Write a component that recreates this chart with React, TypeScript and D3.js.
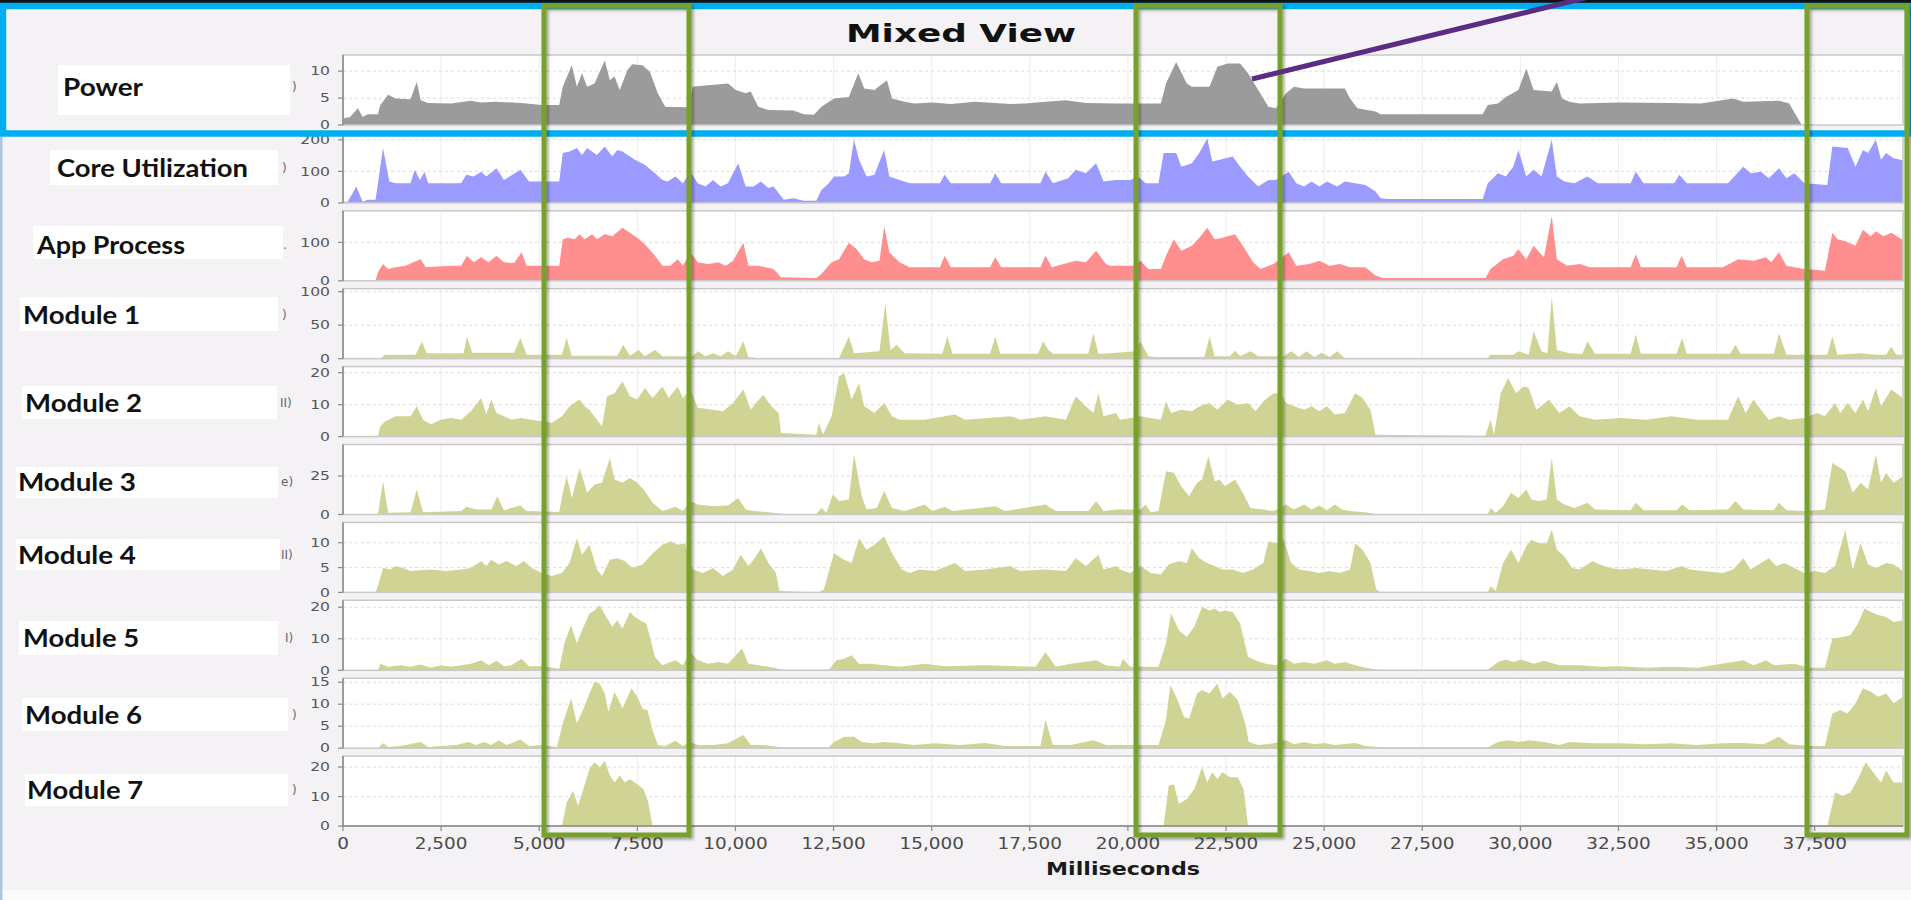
import React from 'react';
import * as d3 from 'd3';

type Pt = [number, number];

// ---------- DATA ----------
const timeDomain: [number, number] = [0, 39750];
const timeTicks = [0, 2500, 5000, 7500, 10000, 12500, 15000, 17500, 20000, 22500, 25000, 27500, 30000, 32500, 35000, 37500];

const panelNames = ['Power', 'Core Utilization', 'App Process', 'Module 1', 'Module 2', 'Module 3', 'Module 4', 'Module 5', 'Module 6', 'Module 7'];
const axisFragments = [')', ')', '.', ')', 'II)', 'e)', 'II)', 'I)', ')', ')'];
const yMax = [13, 222, 182, 104.5, 21.9, 45.5, 14.1, 22.2, 15.9, 23.7];
const yTicks = [[0, 5, 10], [0, 100, 200], [0, 100], [0, 50, 100], [0, 10, 20], [0, 25], [0, 5, 10], [0, 10, 20], [0, 5, 10, 15], [0, 10, 20]];

const powerData: Pt[] = [[0,1.2],[180,1.5],[380,3.1],[500,1.5],[630,2.0],[890,2.0],[950,3.7],[1150,5.6],[1340,4.9],[1720,4.8],[1880,8.0],[1980,4.6],[2170,4.1],[2750,4.0],[3260,4.5],[3510,4.2],[3910,4.3],[4550,4.1],[5060,3.7],[5510,3.7],[5600,7.1],[5830,11.1],[5960,7.1],[6090,9.6],[6220,7.1],[6410,7.7],[6670,12.0],[6800,8.3],[6920,9.0],[7050,6.5],[7250,10.2],[7370,11.3],[7630,11.1],[7820,9.9],[8020,5.9],[8210,3.4],[8790,3.3],[8910,7.1],[9300,7.4],[9810,7.7],[10010,6.5],[10260,5.9],[10390,6.2],[10580,3.4],[10840,2.8],[11480,2.7],[11740,2.0],[12000,1.9],[12190,3.4],[12510,4.9],[12890,5.2],[13130,9.6],[13280,6.8],[13540,6.5],[13860,8.3],[13990,4.9],[14310,4.3],[14560,4.0],[15000,4.2],[15500,3.9],[16100,4.3],[16600,4.1],[17000,3.9],[17390,4.0],[17900,4.3],[18420,4.6],[18930,4.1],[19700,4.0],[20840,4.0],[20970,7.7],[21230,11.7],[21500,7.7],[21630,7.1],[22080,7.1],[22280,10.8],[22540,11.4],[22860,11.4],[23060,9.6],[23320,6.5],[23580,3.4],[23770,3.1],[24030,5.9],[24230,7.1],[24490,6.8],[25010,6.8],[25530,6.8],[25660,4.9],[25850,3.1],[26310,2.5],[26440,2.0],[29040,2.0],[29170,3.7],[29430,4.0],[29630,5.2],[29950,6.5],[30150,10.5],[30340,6.5],[30800,6.2],[30930,8.0],[31060,4.9],[31250,4.3],[31510,4.0],[32500,4.2],[33850,4.1],[34600,4.0],[35420,4.9],[35680,4.3],[36590,4.5],[36850,4.0],[37170,0],[39750,0]];

const coreData: Pt[] = [[0,4],[120,4],[340,52],[500,4],[630,10],[830,10],[1020,174],[1180,68],[1340,62],[1720,62],[1830,105],[1960,73],[2080,99],[2170,62],[3010,62],[3140,89],[3330,84],[3520,99],[3650,84],[3910,110],[4100,73],[4520,105],[4740,68],[5510,68],[5600,158],[5770,163],[5960,174],[6090,152],[6220,174],[6470,152],[6670,179],[6860,147],[6990,168],[7120,163],[7250,152],[7440,137],[7690,121],[7950,94],[8140,73],[8270,68],[8470,84],[8660,62],[8850,99],[9040,62],[9240,52],[9430,73],[9620,52],[9810,62],[10070,126],[10260,52],[10460,52],[10650,68],[10840,47],[10970,52],[11230,10],[11480,15],[11740,7],[12060,7],[12190,41],[12380,62],[12510,84],[12770,84],[12890,94],[13020,200],[13150,137],[13340,84],[13540,89],[13790,168],[13920,84],[14180,73],[14440,62],[15210,62],[15330,89],[15490,62],[16490,62],[16620,94],[16770,62],[17770,62],[17900,99],[18090,62],[18480,78],[18670,105],[18930,94],[19190,126],[19380,68],[19700,73],[20060,73],[20260,84],[20450,62],[20780,62],[20910,158],[21230,158],[21360,115],[21630,126],[21820,158],[22020,205],[22150,131],[22340,137],[22670,147],[22860,115],[23060,84],[23320,52],[23580,73],[23770,73],[24100,99],[24290,62],[24490,52],[24680,68],[24880,52],[25070,68],[25330,52],[25530,68],[25790,62],[26050,57],[26310,36],[26440,15],[26630,12],[29040,12],[29170,62],[29430,94],[29630,84],[29820,115],[29950,168],[30150,84],[30340,105],[30540,84],[30800,200],[30930,84],[31120,68],[31380,62],[31710,84],[31970,62],[32810,62],[32940,99],[33140,62],[33920,62],[34050,89],[34240,62],[35290,62],[35680,115],[35870,94],[36130,99],[36330,78],[36590,110],[36780,78],[36980,94],[37240,62],[37820,57],[37950,179],[38340,174],[38540,115],[38730,168],[38860,158],[39060,200],[39190,137],[39320,158],[39510,142],[39750,135]];

const appData: Pt[] = [[0,0],[830,0],[890,22],[1020,44],[1150,31],[1340,35],[1600,39],[1790,48],[1980,56],[2110,35],[2750,39],[3010,39],[3160,65],[3330,48],[3520,61],[3710,48],[3910,65],[4100,48],[4360,46],[4550,74],[4680,39],[5510,39],[5600,108],[5730,112],[5900,108],[6030,121],[6150,108],[6350,121],[6470,108],[6670,121],[6860,116],[7120,138],[7310,125],[7500,112],[7690,95],[7950,65],[8140,39],[8340,39],[8530,56],[8660,39],[8850,74],[9040,48],[9300,44],[9560,48],[9750,39],[9940,52],[10200,99],[10330,39],[10580,39],[10970,31],[11160,9],[12060,7],[12190,18],[12450,48],[12640,56],[12890,99],[13090,82],[13280,56],[13470,48],[13670,52],[13790,142],[13920,74],[14180,48],[14440,35],[15210,35],[15330,65],[15490,35],[16490,35],[16620,61],[16770,35],[17770,35],[17900,65],[18060,35],[18670,52],[18930,48],[19190,78],[19440,44],[19540,39],[20130,39],[20320,52],[20520,31],[20840,31],[20970,65],[21170,108],[21360,78],[21630,91],[21820,112],[22020,138],[22210,108],[22410,112],[22730,121],[22930,91],[23190,48],[23380,31],[23710,44],[24100,74],[24290,39],[24620,44],[24880,52],[25140,39],[25400,44],[25660,35],[26050,35],[26310,14],[26500,7],[29110,7],[29240,31],[29560,56],[29820,65],[29950,82],[30150,56],[30340,91],[30600,61],[30800,168],[30930,56],[31190,39],[31510,44],[31770,35],[32810,35],[32940,69],[33070,35],[33980,35],[34110,65],[34240,35],[35160,35],[35550,56],[35940,52],[36260,61],[36390,48],[36590,74],[36780,39],[37240,31],[37760,26],[37950,125],[38080,108],[38280,103],[38540,91],[38730,133],[38930,116],[39060,129],[39250,116],[39450,125],[39750,106]];

const module1Data: Pt[] = [[0,0],[950,0],[1060,6],[1850,6],[2010,26],[2130,8],[3070,8],[3160,33],[3290,9],[4360,9],[4520,31],[4680,6],[5580,6],[5700,31],[5830,4.5],[6990,4.5],[7140,21],[7310,4.5],[7530,13],[7690,3.5],[7950,13],[8140,3.5],[8910,3.5],[9040,11],[9240,3.5],[9430,8],[9620,3.5],[9810,11],[10010,3.5],[10200,26],[10330,2.5],[10580,1],[12640,1],[12890,33],[13020,8],[13670,11],[13820,83],[13950,13],[14110,21],[14310,8],[15270,7.5],[15400,33],[15530,7.5],[16490,7.5],[16620,33],[16750,7.5],[17710,7.5],[17840,26],[17970,13],[18100,7.5],[18990,7.5],[19120,38],[19250,7.5],[19540,8],[20190,11],[20320,26],[20520,3.5],[20710,2.5],[21950,2.5],[22080,33],[22210,3.5],[22600,3.5],[22730,12],[22860,3.5],[23120,11],[23320,3.5],[23970,3.5],[24160,11],[24360,2.5],[24550,11],[24750,2.5],[24940,9],[25140,2.5],[25330,11],[25530,1],[26310,1],[26440,0.5],[29170,0.5],[29240,6],[29820,6],[29950,11],[30210,6],[30340,41],[30540,11],[30690,8],[30800,93],[30930,13],[31250,8],[31580,7],[31710,26],[31900,7.5],[32810,7.5],[32940,36],[33070,7.5],[33980,7.5],[34120,31],[34240,7.5],[35350,7.5],[35480,21],[35610,7.5],[36460,7.5],[36590,38],[36780,6],[37820,6],[37950,33],[38080,6],[38670,8],[39060,6],[39320,6],[39450,18],[39580,6],[39750,6]];

const module2Data: Pt[] = [[0,0],[890,0],[950,3.2],[1080,4.8],[1340,6.4],[1720,6.4],[1880,9.5],[2040,5.3],[2240,3.8],[2490,5.3],[2750,5.8],[3010,5.3],[3260,7.9],[3520,12.1],[3650,6.9],[3780,11.6],[3910,7.4],[4100,6.4],[4290,5.3],[4550,5.8],[4810,5.3],[5060,4.8],[5320,4.3],[5580,6.4],[5770,9.5],[6030,11.6],[6150,9.5],[6280,8.4],[6470,5.3],[6600,3.2],[6730,12.6],[6920,13.6],[7120,17.3],[7310,12.6],[7500,11.6],[7690,15.2],[7890,12.1],[8140,15.7],[8300,12.1],[8530,15.7],[8660,12.1],[8850,14.7],[9040,9.0],[9430,8.4],[9680,7.9],[9940,10.5],[10200,14.7],[10390,8.4],[10520,10.5],[10710,13.1],[10910,9.5],[11100,7.4],[11160,1.1],[12060,0.6],[12120,4.3],[12230,0.6],[12450,6.4],[12640,18.9],[12770,19.9],[12960,11.6],[13150,16.8],[13280,9.5],[13540,7.4],[13790,10.5],[13990,6.4],[14180,5.3],[14820,5.3],[15590,6.9],[15850,5.3],[17000,6.4],[17260,5.3],[17900,6.4],[18420,5.3],[18670,12.6],[18930,9.5],[19120,7.4],[19250,13.6],[19380,6.4],[19700,7.4],[19800,5.3],[20320,6.4],[20840,5.3],[20970,11.0],[21100,7.4],[21360,8.4],[21630,7.9],[21820,9.5],[22080,10.5],[22280,8.4],[22540,11.6],[22800,10.0],[23060,10.5],[23250,7.9],[23450,11.0],[23710,13.6],[23900,13.6],[24030,10.5],[24230,9.5],[24490,8.4],[24680,9.5],[24880,7.9],[25070,9.5],[25270,6.9],[25530,7.4],[25790,13.6],[25980,12.1],[26180,8.4],[26310,0.6],[29110,0.3],[29240,5.3],[29330,0.6],[29500,13.6],[29690,18.3],[29890,13.6],[30080,15.7],[30210,15.2],[30410,8.4],[30730,11.6],[30990,7.4],[31250,9.5],[31510,6.4],[31900,5.3],[32550,5.8],[33200,5.3],[33850,6.4],[34510,5.3],[35290,5.3],[35550,12.6],[35740,7.4],[35940,11.6],[36130,8.4],[36330,5.3],[36590,6.4],[36850,5.3],[37240,5.8],[37560,7.4],[37760,6.4],[38020,10.5],[38150,7.4],[38340,10.5],[38540,7.4],[38730,11.6],[38860,7.9],[39060,15.2],[39190,9.5],[39450,14.7],[39750,12.1]];

const module3Data: Pt[] = [[0,0],[890,0],[1020,21.6],[1150,1.1],[1720,1.5],[1880,16.2],[2040,1.5],[3010,2.2],[3140,5.0],[3390,3.2],[3780,3.2],[3930,11.9],[4100,2.8],[4520,5.8],[4680,2.2],[5510,1.7],[5600,14.1],[5700,24.9],[5830,10.8],[6030,30.3],[6220,14.1],[6410,19.5],[6600,20.6],[6800,36.8],[6920,22.7],[7120,20.6],[7310,23.8],[7500,20.6],[7690,15.2],[7890,7.6],[8140,2.2],[8470,5.0],[8660,2.2],[8850,8.7],[9040,6.5],[9430,5.4],[9810,5.8],[10070,10.8],[10260,3.2],[10460,2.2],[10840,1.5],[11230,0.4],[12060,0.4],[12190,4.3],[12320,1.1],[12480,13.0],[12640,8.7],[12890,9.7],[13020,39.0],[13220,11.9],[13340,3.2],[13600,4.3],[13790,15.2],[13990,4.3],[14310,2.2],[14820,6.5],[15010,2.2],[15330,5.0],[15530,2.2],[16620,5.4],[16870,2.2],[17900,6.5],[18160,2.2],[18990,2.2],[19190,8.7],[19380,2.2],[19700,3.2],[20320,3.2],[20450,6.5],[20580,1.5],[20780,2.2],[20970,28.1],[21170,27.1],[21360,18.4],[21560,11.9],[21760,20.6],[21890,22.7],[22050,37.9],[22210,21.6],[22340,22.7],[22470,18.4],[22730,22.7],[22930,14.1],[23120,4.3],[23450,3.2],[23710,2.2],[24030,6.5],[24230,3.2],[24490,6.5],[24680,3.2],[24880,5.8],[25070,2.8],[25270,6.5],[25460,3.2],[25660,2.2],[26050,1.5],[26310,0.4],[29170,0.4],[29240,4.3],[29370,1.1],[29560,5.4],[29760,14.1],[29950,10.8],[30150,16.2],[30280,9.7],[30470,8.7],[30670,9.7],[30800,36.8],[30930,9.7],[31120,6.5],[31380,4.3],[31710,7.6],[31900,3.2],[32810,2.8],[32940,7.6],[33140,2.8],[33980,2.8],[34120,6.5],[34310,2.8],[35290,3.2],[35480,8.7],[35680,3.2],[36460,2.8],[36590,7.6],[36780,2.8],[37240,2.2],[37760,3.2],[37950,33.5],[38080,31.4],[38280,28.1],[38470,14.1],[38670,20.6],[38860,16.2],[39060,39.0],[39190,20.6],[39320,27.1],[39510,20.6],[39750,24.9]];

const module4Data: Pt[] = [[0,0],[830,0],[890,1.3],[1020,4.9],[1210,4.6],[1340,5.3],[1530,4.9],[1720,4.3],[2240,4.6],[2620,4.3],[3010,4.6],[3260,4.9],[3520,6.3],[3650,5.3],[3780,6.6],[3970,5.6],[4160,6.3],[4420,5.3],[4610,6.3],[4810,4.9],[5060,3.9],[5320,3.3],[5580,3.9],[5770,5.9],[5960,10.9],[6090,7.6],[6280,9.6],[6470,4.6],[6600,3.3],[6800,6.6],[6990,6.9],[7180,6.3],[7370,4.9],[7630,5.6],[7890,7.9],[8140,9.6],[8340,10.3],[8530,9.6],[8720,9.9],[8910,4.6],[9170,3.9],[9430,4.9],[9680,3.3],[9940,4.6],[10130,7.6],[10330,5.3],[10460,6.6],[10650,8.9],[10840,5.9],[11030,3.9],[11120,0.3],[12120,0],[12250,0.6],[12510,7.9],[12770,6.6],[12960,5.9],[13150,10.9],[13340,8.6],[13540,9.6],[13790,11.3],[13990,7.9],[14240,4.6],[14440,3.9],[14690,4.6],[15080,4.3],[15590,5.9],[15850,4.3],[16360,4.6],[17000,5.3],[17260,4.3],[17900,4.6],[18420,4.3],[18670,6.9],[18930,5.3],[19250,7.6],[19380,4.6],[19700,5.3],[19800,4.6],[20060,3.9],[20320,5.3],[20580,3.9],[20840,3.6],[21040,5.6],[21300,6.3],[21500,5.9],[21630,8.9],[21820,6.9],[22020,5.9],[22210,5.3],[22410,4.6],[22670,4.6],[22930,3.9],[23190,4.6],[23450,5.9],[23580,10.3],[23770,9.9],[23970,10.6],[24160,5.9],[24360,4.6],[24620,4.3],[24880,3.9],[25140,4.3],[25400,3.9],[25660,4.6],[25790,9.9],[25980,8.6],[26180,5.9],[26330,0.6],[26440,0],[29170,0],[29240,1.3],[29370,0.3],[29560,5.9],[29760,8.6],[29950,5.9],[30150,9.3],[30280,10.6],[30470,9.9],[30670,9.9],[30800,12.6],[30930,8.6],[31120,7.3],[31320,4.9],[31510,4.6],[31840,6.3],[32030,5.6],[32290,4.9],[32550,4.6],[32940,4.9],[33330,4.6],[33720,4.3],[34120,5.3],[34310,4.6],[34640,4.3],[35160,3.9],[35420,4.6],[35680,6.9],[35870,4.6],[36070,5.6],[36330,6.9],[36520,5.3],[36720,5.9],[36980,4.9],[37240,3.9],[37500,4.3],[37760,3.9],[38020,5.3],[38280,12.6],[38470,4.6],[38670,9.9],[38860,5.6],[39060,4.9],[39320,5.9],[39510,5.6],[39750,4.3]];

const module5Data: Pt[] = [[0,0],[890,0],[950,2.1],[1150,1.1],[1470,1.6],[1720,1.1],[1980,1.8],[2240,0.8],[2490,1.6],[2750,1.1],[3010,1.6],[3260,2.1],[3520,3.2],[3710,1.6],[3910,3.0],[4100,1.3],[4290,1.6],[4550,3.7],[4740,1.3],[5060,1.3],[5510,0.5],[5640,8.5],[5810,14.3],[5960,8.5],[6090,12.7],[6280,18.0],[6410,19.0],[6540,20.6],[6710,16.9],[6860,13.8],[6990,15.9],[7120,13.2],[7310,18.5],[7440,16.9],[7570,15.9],[7730,14.8],[7820,10.6],[7950,4.2],[8140,1.6],[8470,3.2],[8660,1.6],[8850,5.8],[9040,3.2],[9300,2.1],[9560,2.6],[9810,2.1],[10170,6.9],[10330,2.1],[10580,1.6],[10840,1.1],[11100,0.5],[11230,0.2],[12380,0.2],[12570,3.2],[12770,3.7],[12960,4.8],[13150,2.1],[13410,2.1],[13790,1.6],[14180,1.1],[14820,2.1],[15330,1.3],[16360,1.6],[17650,1.1],[17900,5.8],[18160,1.1],[18540,2.1],[19190,3.2],[19440,1.6],[19800,1.1],[19870,3.7],[20060,1.1],[20780,1.1],[20970,8.5],[21100,18.0],[21300,12.7],[21500,10.6],[21690,13.8],[21890,20.1],[22080,19.0],[22210,19.6],[22340,18.5],[22470,19.0],[22670,18.5],[22860,14.8],[23060,4.2],[23250,3.2],[23510,2.1],[23770,1.6],[24030,3.7],[24230,2.1],[24490,2.6],[24750,2.1],[25070,3.2],[25270,2.1],[25530,2.6],[25790,1.6],[26050,0.8],[26370,0.2],[29170,0.2],[29430,2.6],[29630,3.4],[29820,2.6],[30020,3.4],[30340,2.1],[30600,3.0],[30990,1.6],[31510,1.6],[32030,1.1],[32550,1.3],[33200,0.8],[33850,1.1],[34510,0.8],[34900,1.6],[35680,3.2],[35940,1.6],[36260,3.2],[36460,1.6],[36980,2.1],[37370,0.8],[37760,0.8],[37950,10.1],[38150,10.4],[38410,11.1],[38600,14.8],[38770,19.6],[38930,18.5],[39120,17.5],[39320,16.9],[39510,15.3],[39750,15.9]];

const module6Data: Pt[] = [[0,0],[890,0],[1020,1.1],[1150,0.3],[1470,0.5],[1980,1.4],[2170,0.3],[2490,0.5],[2880,0.7],[3200,1.4],[3390,0.7],[3590,1.4],[3780,0.7],[3970,1.8],[4160,0.7],[4520,2.0],[4740,0.5],[5060,0.7],[5450,0.3],[5600,5.6],[5810,11.3],[5960,5.6],[6150,9.4],[6280,12.4],[6410,15.1],[6540,14.7],[6670,12.4],[6760,8.3],[6920,12.8],[7120,9.0],[7350,13.6],[7500,11.7],[7630,9.0],[7760,8.6],[7890,4.1],[8020,0.7],[8210,0.5],[8470,1.7],[8660,0.5],[8850,1.4],[9040,0.7],[9430,0.7],[9810,1.1],[10200,3.0],[10390,0.7],[10710,0.7],[11100,0.3],[11230,0.2],[12380,0.2],[12510,1.4],[12770,2.6],[13020,2.6],[13220,1.4],[13540,1.1],[13790,1.4],[14180,1.1],[14560,0.7],[15080,1.1],[15720,0.7],[16360,1.2],[16870,0.5],[17770,0.5],[17900,6.4],[18090,0.7],[18540,0.7],[19120,1.8],[19440,0.7],[20780,0.7],[20970,6.4],[21080,14.3],[21230,11.7],[21430,7.1],[21560,6.7],[21760,12.4],[21890,13.2],[22080,12.4],[22280,14.7],[22410,11.3],[22600,12.8],[22800,10.9],[22990,5.6],[23080,1.4],[23320,0.7],[23710,1.1],[24030,1.8],[24230,0.9],[24490,1.4],[24750,0.9],[25010,1.2],[25270,0.7],[25790,1.2],[26050,0.5],[26440,0.2],[29170,0.2],[29430,1.4],[29690,1.8],[29950,1.4],[30210,1.8],[30600,1.4],[30990,0.7],[31250,1.4],[31900,1.1],[32550,1.1],[33200,0.9],[33850,1.1],[34510,0.7],[35160,1.1],[35680,1.2],[36200,0.9],[36590,2.6],[36850,0.9],[37370,0.5],[37760,0.5],[37950,7.9],[38150,8.6],[38340,7.9],[38540,10.2],[38730,13.6],[38930,12.8],[39120,11.7],[39320,12.4],[39510,10.2],[39750,11.7]];

const module7Data: Pt[] = [[0,0],[5580,0],[5700,8.0],[5860,12.0],[5990,6.9],[6150,13.7],[6280,19.3],[6410,21.6],[6540,19.9],[6670,22.1],[6800,17.1],[6920,14.8],[7050,17.1],[7180,14.8],[7310,15.9],[7500,14.2],[7660,12.5],[7780,8.0],[7890,0],[20910,0],[21040,13.7],[21170,14.2],[21300,7.5],[21500,9.2],[21690,12.5],[21890,19.9],[22020,14.8],[22150,18.2],[22280,15.9],[22410,18.2],[22600,16.5],[22800,16.5],[22950,12.5],[23060,0],[37820,0],[38020,11.4],[38210,10.3],[38410,11.4],[38600,15.9],[38800,21.6],[38990,18.2],[39190,14.8],[39320,18.8],[39510,14.8],[39750,14.8]];

const seriesData = [powerData, coreData, appData, module1Data, module2Data, module3Data, module4Data, module5Data, module6Data, module7Data];

// ---------- LAYOUT / STYLE ----------
const W = 1911;
const H = 900;
const PLOT_L = 343;
const PLOT_R = 1903;
const PANEL_TOP0 = 55;
const PANEL_PITCH = 77.9;
const PANEL_H = 70;
const OLIVE = '#cfd393';
const fills = ['#9b9b9b', '#9a9aff', '#ff8e8e', OLIVE, OLIVE, OLIVE, OLIVE, OLIVE, OLIVE, OLIVE];

// left label boxes: [boxX, boxY, boxW, boxH, textX, textCY, textW]
const labelLayout = [
  [58, 65, 232, 50, 63, 87, 80],
  [50, 150, 228, 35, 57, 168, 191],
  [33, 226, 250, 33, 37, 245, 148],
  [20, 297, 258, 34, 23, 315, 117],
  [22, 386, 255, 33, 25, 403, 117],
  [16, 467, 262, 31, 18, 482, 118],
  [16, 539, 264, 31, 18, 555, 118],
  [19, 621, 259, 34, 23, 638, 116],
  [22, 698, 266, 33, 25, 715, 117],
  [25, 774, 263, 32, 27, 790, 116],
];
const fragX = [292, 282, 283, 282, 280, 281, 281, 285, 292, 292];

const greenBoxes = [[544, 689], [1136, 1280], [1807, 1907]];

export default function App() {
  React.useEffect(() => {
    document.body.style.margin = '0';
    document.body.style.overflow = 'hidden';
  }, []);

  const x = d3.scaleLinear().domain(timeDomain).range([PLOT_L, PLOT_R]);

  const panels = seriesData.map((data, i) => {
    const top = PANEL_TOP0 + i * PANEL_PITCH;
    const bottom = top + PANEL_H;
    const y = d3.scaleLinear().domain([0, yMax[i]]).range([bottom, top]);
    const area = d3
      .area<Pt>()
      .x((d) => x(d[0]))
      .y0(y(0))
      .y1((d) => y(Math.min(d[1], yMax[i])))
      .curve(d3.curveLinear);
    return { i, top, bottom, y, path: area(data) || '', ticks: yTicks[i], fill: fills[i] };
  });

  const lastBottom = panels[panels.length - 1].bottom;

  return (
    <svg
      width={W}
      height={H}
      viewBox={`0 0 ${W} ${H}`}
      style={{ position: 'absolute', left: 0, top: 0, display: 'block' }}
    >
      <defs>
        {panels.map((p) => (
          <clipPath key={p.i} id={`clip${p.i}`}>
            <rect x={PLOT_L} y={p.top} width={PLOT_R - PLOT_L} height={PANEL_H} />
          </clipPath>
        ))}
        <filter id="gshadow" x="-10%" y="-10%" width="120%" height="120%">
          <feDropShadow dx="2" dy="2" stdDeviation="1.5" floodColor="#000" floodOpacity="0.35" />
        </filter>
      </defs>

      {/* page background */}
      <rect x={0} y={0} width={W} height={H} fill="#f4f2f5" />
      <rect x={0} y={890} width={W} height={10} fill="#fbfbfc" />
      <rect x={0} y={137} width={2.5} height={H - 137} fill="#a8c8e6" />

      {/* title */}
      <text
        x={961}
        y={33}
        dy="0.35em"
        textAnchor="middle"
        fontFamily="DejaVu Sans"
        fontWeight="bold"
        fontSize={25}
        textLength={230}
        lengthAdjust="spacingAndGlyphs"
        fill="#111"
      >
        Mixed View
      </text>

      {/* panels */}
      {panels.map((p) => (
        <g key={p.i}>
          <rect x={PLOT_L} y={p.top} width={PLOT_R - PLOT_L} height={PANEL_H} fill="#ffffff" />
          {timeTicks.map((t) => (
            <line key={t} x1={x(t)} x2={x(t)} y1={p.top} y2={p.bottom} stroke="#ededed" strokeWidth={1} />
          ))}
          {p.ticks
            .filter((v) => v > 0)
            .map((v) => (
              <line
                key={v}
                x1={PLOT_L}
                x2={PLOT_R}
                y1={p.y(v)}
                y2={p.y(v)}
                stroke="#dcdcdc"
                strokeWidth={1}
                strokeDasharray="3,3"
              />
            ))}
          <path d={p.path} fill={p.fill} clipPath={`url(#clip${p.i})`} />
          <rect
            x={PLOT_L}
            y={p.top}
            width={PLOT_R - PLOT_L}
            height={PANEL_H}
            fill="none"
            stroke="#c9c9c9"
            strokeWidth={1.5}
          />
          {/* y axis */}
          <line x1={PLOT_L} x2={PLOT_L} y1={p.top} y2={p.bottom} stroke="#8a8a8a" strokeWidth={1.5} />
          {p.ticks.map((v) => (
            <g key={v}>
              <line x1={PLOT_L - 5} x2={PLOT_L} y1={p.y(v)} y2={p.y(v)} stroke="#8a8a8a" strokeWidth={1.2} />
              <text
                transform={`translate(330,${p.y(v)}) scale(1.3,1)`}
                dy="0.35em"
                textAnchor="end"
                fontFamily="DejaVu Sans"
                fontSize={12}
                fill="#555"
              >
                {v}
              </text>
            </g>
          ))}
        </g>
      ))}

      {/* x axis */}
      <line x1={PLOT_L} x2={PLOT_R} y1={lastBottom} y2={lastBottom} stroke="#8a8a8a" strokeWidth={1.5} />
      {timeTicks.map((t) => (
        <g key={t}>
          <line x1={x(t)} x2={x(t)} y1={lastBottom} y2={lastBottom + 5} stroke="#8a8a8a" strokeWidth={1.2} />
          <text
            transform={`translate(${x(t)},${843}) scale(1.15,1)`}
            dy="0.36em"
            textAnchor="middle"
            fontFamily="DejaVu Sans"
            fontSize={16}
            fill="#4a4a4a"
          >
            {d3.format(',')(t)}
          </text>
        </g>
      ))}
      <text
        x={1123}
        y={869}
        dy="0.35em"
        textAnchor="middle"
        fontFamily="DejaVu Sans"
        fontWeight="bold"
        fontSize={17}
        textLength={154}
        lengthAdjust="spacingAndGlyphs"
        fill="#1a1a1a"
      >
        Milliseconds
      </text>

      {/* left labels */}
      {panelNames.map((name, i) => {
        const [bx, by, bw, bh, tx, ty, tw] = labelLayout[i];
        return (
          <g key={name}>
            <text
              x={fragX[i]}
              y={ty}
              dy="0.35em"
              fontFamily="DejaVu Sans"
              fontSize={12}
              fill="#666"
            >
              {axisFragments[i]}
            </text>
            <rect x={bx} y={by} width={bw} height={bh} fill="#ffffff" />
            <text
              x={tx}
              y={ty}
              dy="0.35em"
              fontFamily="Lato"
              fontWeight="bold"
              fontSize={25}
              textLength={tw}
              lengthAdjust="spacingAndGlyphs"
              fill="#111"
            >
              {name}
            </text>
          </g>
        );
      })}

      {/* blue highlight box */}
      <rect x={0} y={0} width={W} height={3} fill="#111" />
      <rect x={3} y={6} width={W - 6} height={127.5} fill="none" stroke="#00aeef" strokeWidth={6.5} />

      {/* green annotation boxes */}
      {greenBoxes.map(([a, b], k) => (
        <rect
          key={k}
          x={a}
          y={6}
          width={b - a}
          height={829}
          fill="none"
          stroke="#77a12b"
          strokeWidth={5}
          filter="url(#gshadow)"
        />
      ))}

      {/* purple pointer */}
      <line x1={1252} y1={79} x2={1585} y2={-2} stroke="#5b2c83" strokeWidth={5} />
    </svg>
  );
}
